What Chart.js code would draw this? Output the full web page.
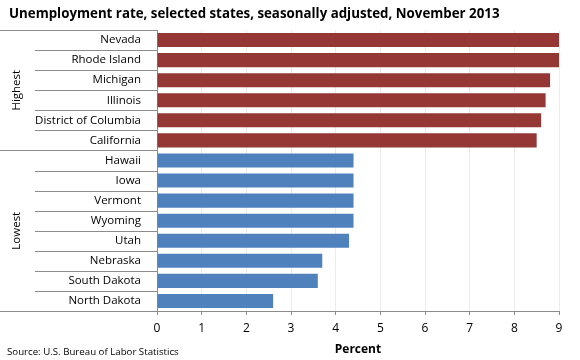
<!DOCTYPE html>
<html><head><meta charset="utf-8">
<script src="https://cdn.jsdelivr.net/npm/chart.js@4"></script>
<style>html,body{margin:0;padding:0;background:#fff}#wrap{width:580px;height:360px}</style>
</head><body><div id="wrap"><canvas id="c" width="580" height="360"></canvas></div>
<script>
const states = ["Nevada","Rhode Island","Michigan","Illinois","District of Columbia","California","Hawaii","Iowa","Vermont","Wyoming","Utah","Nebraska","South Dakota","North Dakota"];
const rates = [9.0,9.0,8.8,8.7,8.6,8.5,4.4,4.4,4.4,4.4,4.3,3.7,3.6,2.6];
const groups = ["Highest","Highest","Highest","Highest","Highest","Highest","Lowest","Lowest","Lowest","Lowest","Lowest","Lowest","Lowest","Lowest"];
const xTicks = [0,1,2,3,4,5,6,7,8,9];
const groupColors = {Highest:"#953735", Lowest:"#4F81BD"};
const FONT = "Open Sans";

const overlay = {
  id:"overlay",
  afterDraw(chart){
    const ctx = chart.ctx, y = chart.scales.y, a = chart.chartArea;
    ctx.save();
    ctx.fillStyle="#000"; ctx.font="bold 13.3px '"+FONT+"'"; ctx.textBaseline="middle"; ctx.textAlign="left";
    ctx.fillText("Unemployment rate, selected states, seasonally adjusted, November 2013", 9, 14);
    ctx.strokeStyle="#8c8c8c"; ctx.lineWidth=1;
    const n = states.length;
    const step = (y.getPixelForValue(1)-y.getPixelForValue(0));
    for(let i=0;i<=n;i++){
      const py = Math.round(y.getPixelForValue(i)-step/2)+0.5;
      const isGroup = i===0 || i===n || groups[i]!==groups[i-1];
      ctx.beginPath(); ctx.moveTo(isGroup?0:35, py); ctx.lineTo(a.left, py); ctx.stroke();
    }
    const seen = {};
    groups.forEach((g,i)=>{ (seen[g]=seen[g]||[]).push(i); });
    ctx.font="11.5px '"+FONT+"'"; ctx.textAlign="center"; ctx.fillStyle="#000";
    for(const g in seen){
      const idx = seen[g];
      const cy = (y.getPixelForValue(idx[0])+y.getPixelForValue(idx[idx.length-1]))/2;
      ctx.save(); ctx.translate(17, cy); ctx.rotate(-Math.PI/2); ctx.fillText(g,0,0); ctx.restore();
    }
    ctx.font="9.7px '"+FONT+"'"; ctx.textAlign="left";
    ctx.fillText("Source: U.S. Bureau of Labor Statistics", 7, 352);
    ctx.restore();
  }
};

new Chart(document.getElementById("c"), {
  type:"bar",
  data:{ labels: states, datasets:[{ data: rates, backgroundColor: groups.map(g=>groupColors[g]), categoryPercentage:0.7, barPercentage:1.0 }]},
  options:{
    indexAxis:"y", responsive:false, animation:false,
    layout:{ padding:{ top:30, right:21, bottom:0, left:0 } },
    plugins:{ legend:{display:false}, tooltip:{enabled:false} },
    scales:{
      x:{ min:0, max:9, afterBuildTicks(s){ s.ticks = xTicks.map(v=>({value:v})); },
        grid:{ color:"#ececec", drawTicks:true, tickLength:4, tickColor:"#8c8c8c" },
        border:{ color:"#8c8c8c" },
        ticks:{ color:"#000", font:{family:FONT,size:12}, padding:6 },
        title:{ display:true, text:"Percent", color:"#000", font:{family:FONT,size:12,weight:"bold"}, padding:{top:0,bottom:3} },
        afterFit(s){ s.height = 49; } },
      y:{ grid:{ display:false }, border:{ color:"#8c8c8c" },
        ticks:{ color:"#000", font:{family:FONT,size:11.5}, padding:8 },
        afterFit(s){ s.width = 157; } }
    }
  },
  plugins:[overlay]
});
</script></body></html>
